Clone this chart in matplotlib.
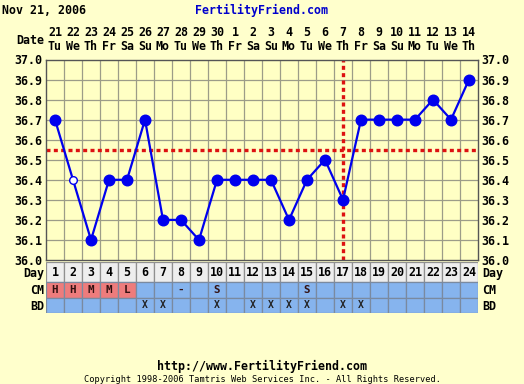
import matplotlib
matplotlib.use("Agg")
import matplotlib.pyplot as plt
import numpy as np

# chart data
chart_date = "Nov 21, 2006"
days = list(range(1, 25))
dates = ["21", "22", "23", "24", "25", "26", "27", "28", "29", "30", "1", "2",
         "3", "4", "5", "6", "7", "8", "9", "10", "11", "12", "13", "14"]
weekdays = ["Tu", "We", "Th", "Fr", "Sa", "Su", "Mo", "Tu", "We", "Th", "Fr", "Sa",
            "Su", "Mo", "Tu", "We", "Th", "Fr", "Sa", "Su", "Mo", "Tu", "We", "Th"]
temps = [36.7, 36.4, 36.1, 36.4, 36.4, 36.7, 36.2, 36.2, 36.1, 36.4, 36.4, 36.4,
         36.4, 36.2, 36.4, 36.5, 36.3, 36.7, 36.7, 36.7, 36.7, 36.8, 36.7, 36.9]
open_days = [2]
coverline = 36.55
ovulation_day = 17
cm = ["H", "H", "M", "M", "L", "", "", "-", "", "S", "", "",
      "", "", "S", "", "", "", "", "", "", "", "", ""]
bd = ["", "", "", "", "", "X", "X", "", "", "X", "", "X",
      "X", "X", "X", "", "X", "X", "", "", "", "", "", ""]
yticks = [36.0, 36.1, 36.2, 36.3, 36.4, 36.5, 36.6, 36.7, 36.8, 36.9, 37.0]

BG = "#FFFFCC"
BLUE = "#0000EE"
RED = "#DD1111"
GRID = "#9C9C88"
FONT = "DejaVu Sans Mono"
FS = 8.4

W, H = 524, 384
fig = plt.figure(figsize=(W / 100, H / 100), dpi=100)
fig.patch.set_facecolor(BG)


def px(x0, y0, x1, y1):
    # pixel box -> figure rect
    return [x0 / W, 1 - y1 / H, (x1 - x0) / W, (y1 - y0) / H]


# temperature chart
ax = fig.add_axes(px(46, 59.5, 478, 260))
ax.set_facecolor("#FFFFC4")
ax.set_xlim(0.5, 24.5)
ax.set_ylim(36.0, 37.0)
for x in np.arange(1.5, 24.5, 1):
    ax.axvline(x, color=GRID, lw=0.9, zorder=1)
for y in yticks[1:-1]:
    ax.axhline(y, color=GRID, lw=0.9, zorder=1)
for s in ax.spines.values():
    s.set_color("#555555")
    s.set_linewidth(1)

ax.set_yticks(yticks)
ax.set_yticklabels(["%.1f" % v for v in yticks])
ax.tick_params(axis="y", length=0, pad=2.5, labelright=True, labelleft=True)
ax.tick_params(axis="x", length=0, pad=5, labeltop=True, labelbottom=False)
ax.set_xticks(days)
ax.set_xticklabels([d + "\n" + w for d, w in zip(dates, weekdays)], linespacing=1.05)
for lab in ax.get_xticklabels() + ax.get_yticklabels():
    lab.set_fontfamily(FONT)
    lab.set_fontweight("bold")
    lab.set_fontsize(FS)

ax.axhline(coverline, color=RED, lw=2.4, ls=(0, (1.2, 1.0)), zorder=2)
ax.axvline(ovulation_day, color=RED, lw=2.4, ls=(0, (1.2, 1.0)), zorder=2, clip_on=False)

ax.plot(days, temps, color=BLUE, lw=1.6, zorder=3)
filled = [i for i, d in enumerate(days) if d not in open_days]
hollow = [i for i, d in enumerate(days) if d in open_days]
ax.plot([days[i] for i in filled], [temps[i] for i in filled], "o", color=BLUE,
        ms=7.6, zorder=4)
ax.plot([days[i] for i in hollow], [temps[i] for i in hollow], "o", mfc="white",
        mec=BLUE, mew=1, ms=5.5, zorder=4)

# day / CM / BD table (rows in pixel units: BD 0-15, CM 15-30, Day 30-50)
tx = fig.add_axes(px(46, 262, 478, 313))
tx.set_xlim(0.5, 24.5)
tx.set_ylim(0, 51)
tx.axis("off")
cell_blue = "#86B4EE"
cell_red = "#EE7C7C"
edge = "#7A8AA0"
tx.bar(days, 20, bottom=31, width=1, color="#EEEEEE", edgecolor="#909090", lw=0.9)
cm_colors = [cell_red if c in ("H", "M", "L") else cell_blue for c in cm]
tx.bar(days, 15.5, bottom=15.5, width=1, color=cm_colors, edgecolor=edge, lw=0.9)
tx.bar(days, 15.5, bottom=0, width=1, color=cell_blue, edgecolor=edge, lw=0.9)
txt = dict(fontfamily=FONT, fontweight="bold", ha="center", va="center")
for d, c, b in zip(days, cm, bd):
    tx.text(d, 40, str(d), fontsize=FS, **txt)
    if c:
        tx.text(d, 23, c, fontsize=FS - 0.6, color="#331111", **txt)
    if b:
        tx.text(d, 7.5, b, fontsize=FS - 1.4, color="#222222", **txt)

# row labels
lab = dict(fontfamily=FONT, fontweight="bold", fontsize=FS, va="center")
for name, ypix in [("Day", 274), ("CM", 291), ("BD", 306)]:
    fig.text(44 / W, 1 - ypix / H, name, ha="right", **lab)
    fig.text(482 / W, 1 - ypix / H, name, ha="left", **lab)
fig.text(44 / W, 1 - 40 / H, "Date", ha="right", **lab)

# header / footer
fig.text(2 / W, 1 - 10 / H, chart_date, ha="left", **lab)
fig.text(262 / W, 1 - 10 / H, "FertilityFriend.com", ha="center", color="#0000CC", **lab)
fig.text(262 / W, 1 - 366 / H, "http://www.FertilityFriend.com", ha="center", **lab)
fig.text(262 / W, 1 - 379 / H,
         "Copyright 1998-2006 Tamtris Web Services Inc. - All Rights Reserved.",
         ha="center", va="center", fontfamily=FONT, fontsize=6.2)

fig.savefig("out.png", dpi=100, facecolor=BG)
